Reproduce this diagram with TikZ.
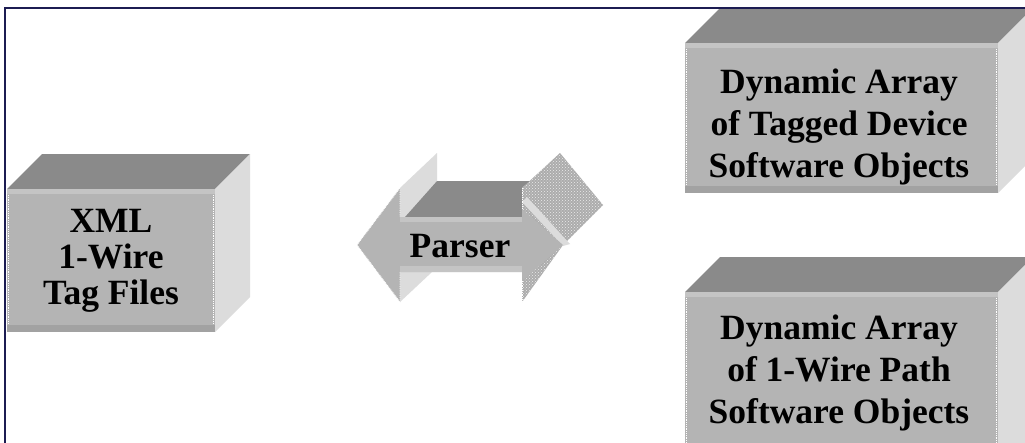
\documentclass[tikz,border=0pt]{standalone}
\usepackage{fontspec}
\setmainfont{Liberation Serif}
\usepackage{tikz}
\usetikzlibrary{patterns}

\definecolor{framenavy}{RGB}{28,28,82}
\definecolor{frontgray}{RGB}{180,180,180}
\definecolor{toplight}{RGB}{196,196,196}
\definecolor{bottomdark}{RGB}{162,162,162}
\definecolor{topgray}{RGB}{138,138,138}
\definecolor{sidegray}{RGB}{220,220,220}
\definecolor{dithergray}{RGB}{172,172,172}

\newcommand{\tagblock}[4]{
  \fill[topgray] (#1,#2) -- ++(35,-35) -- ++(#3,0) -- ++(-35,35) -- cycle;
  \fill[sidegray] (#1+#3,#2) -- ++(35,-35) -- ++(0,#4) -- ++(-35,35) -- cycle;
  \fill[frontgray] (#1,#2) rectangle ++(#3,#4);
  \fill[toplight] (#1,#2) rectangle ++(#3,5);
  \fill[bottomdark] (#1,#2+#4-7) rectangle ++(#3,7);
  \draw[white, densely dotted, line width=0.8pt] (#1+1.5,#2+6) -- ++(0,#4-14);
  \draw[white, densely dotted, line width=0.8pt] (#1+#3-1.5,#2+6) -- ++(0,#4-14);
}

\begin{document}
\begin{tikzpicture}[x=1pt, y=-1pt,
    boxtext/.style={font=\bfseries\fontsize{35.5}{42}\selectfont, align=center, text=black},
    edgedots/.style={white, densely dotted, line width=0.8pt}]
\useasboundingbox (0,0) rectangle (1025,442);
\clip (0,0) rectangle (1025,442);
\fill[white] (0,0) rectangle (1025,442);

\tagblock{7}{189}{208}{143}
\tagblock{685}{43}{313}{150}
\tagblock{685}{292}{313}{200}

\fill[sidegray] (400,188) -- (437,153) -- (437,181) -- (405,217) -- (400,217) -- cycle;
\fill[sidegray] (400,272) -- (432,272) -- (400,302) -- cycle;
\fill[topgray] (405,217) -- (437,181) -- (530,181) -- (522,188) -- (522,217) -- cycle;
\fill[dithergray] (522,188) -- (560,153) -- (603,205) -- (563,245) -- (522,302) -- cycle;
\fill[pattern=crosshatch dots, pattern color=white!85!gray] (522,188) -- (560,153) -- (603,205) -- (563,245) -- (522,302) -- cycle;
\fill[sidegray] (522,202) -- (527,197) -- (570,244) -- (563,246) -- cycle;
\fill[frontgray] (357,245) -- (400,188) -- (400,217) -- (522,217) -- (522,209) -- (563,245)
    -- (522,281) -- (522,272) -- (400,272) -- (400,302) -- cycle;
\fill[toplight] (400,217) rectangle (522,222);
\fill[toplight] (400,266) rectangle (522,272);
\draw[edgedots] (357,245) -- (400,188) -- (400,217);
\draw[edgedots] (357,245) -- (400,302) -- (400,272);
\draw[edgedots] (522,188) -- (522,209);
\draw[edgedots] (522,281) -- (522,302);

\node[boxtext, font=\bfseries\fontsize{35.5}{36}\selectfont] (xml) at (111,261) {XML\\1-Wire\\Tag Files};
\node[boxtext] (parser) at (460,246) {Parser};
\node[boxtext] (devices) at (839,127) {Dynamic Array\\of Tagged Device\\Software Objects};
\node[boxtext] (paths) at (839,373) {Dynamic Array\\of 1-Wire Path\\Software Objects};

\draw[framenavy, line width=2.5pt] (5,450) -- (5,8) -- (1030,8);
\end{tikzpicture}
\end{document}
